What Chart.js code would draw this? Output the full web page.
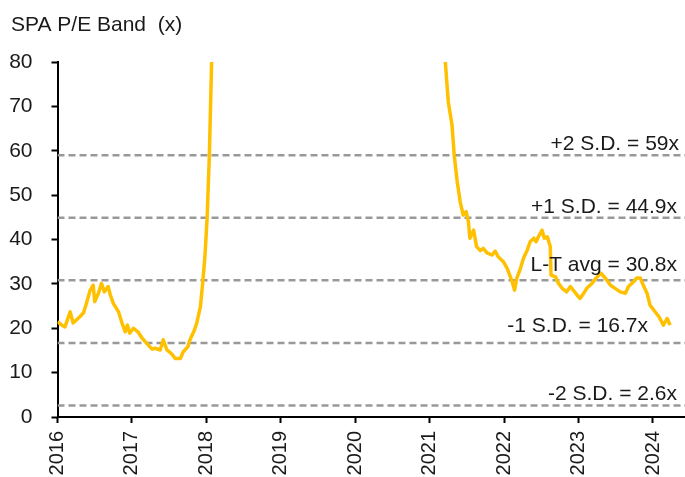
<!DOCTYPE html>
<html>
<head>
  <meta charset="utf-8">
  <title>SPA P/E Band</title>
  <script src="https://cdn.jsdelivr.net/npm/chart.js"></script>
  <style>
    body { margin: 0; background: #fff; }
    canvas { display: block; }
  </style>
</head>
<body>

<canvas id="peChart" width="685" height="477"></canvas>

<script>
  // decimal years and P/E readings (x); 2018-2021 runs far above the 80x axis top
  const dates = [
    2016.00, 2016.05, 2016.10, 2016.17, 2016.21, 2016.30, 2016.35, 2016.39, 2016.44, 2016.48,
    2016.50, 2016.55, 2016.59, 2016.63, 2016.68, 2016.71, 2016.75, 2016.82, 2016.86, 2016.91,
    2016.94, 2016.97, 2017.02, 2017.08, 2017.14, 2017.22, 2017.27, 2017.31, 2017.38, 2017.42,
    2017.47, 2017.53, 2017.58, 2017.65, 2017.69, 2017.75, 2017.78, 2017.83, 2017.87, 2017.92,
    2017.95, 2017.98, 2018.01, 2018.04, 2018.07, 2018.10, 2018.30, 2018.80, 2019.50, 2020.30,
    2020.90, 2021.15, 2021.21, 2021.25, 2021.30, 2021.33, 2021.37, 2021.41, 2021.45, 2021.49,
    2021.52, 2021.54, 2021.59, 2021.63, 2021.68, 2021.72, 2021.77, 2021.84, 2021.88, 2021.92,
    2021.99, 2022.04, 2022.10, 2022.14, 2022.17, 2022.22, 2022.26, 2022.31, 2022.35, 2022.40,
    2022.43, 2022.46, 2022.51, 2022.54, 2022.58, 2022.62, 2022.63, 2022.69, 2022.73, 2022.78,
    2022.84, 2022.89, 2022.96, 2023.02, 2023.07, 2023.11, 2023.18, 2023.25, 2023.30, 2023.36,
    2023.43, 2023.49, 2023.56, 2023.63, 2023.67, 2023.74, 2023.78, 2023.83, 2023.87, 2023.92,
    2023.96, 2024.01, 2024.08, 2024.14, 2024.19, 2024.23
  ];
  const pe = [
    21.5, 20.8, 20.3, 23.7, 21.2, 22.6, 23.5, 25.7, 28.6, 29.7,
    26.0, 27.9, 30.1, 28.2, 29.4, 27.5, 25.6, 23.7, 21.5, 19.2,
    20.7, 18.9, 20.0, 19.2, 17.7, 16.2, 15.3, 15.5, 15.1, 17.4,
    15.1, 14.3, 13.2, 13.2, 14.7, 15.8, 17.4, 19.2, 21.1, 24.9,
    30.1, 36.0, 44.8, 59.0, 79.7, 95, 130, 160, 190, 170,
    130, 95, 80.0, 71.0, 65.8, 59.0, 53.0, 48.5, 45.5, 46.3,
    44.0, 40.3, 42.1, 38.4, 37.5, 38.0, 37.0, 36.5, 37.4, 36.1,
    35.0, 33.5, 30.9, 28.6, 31.3, 33.5, 35.8, 37.6, 39.5, 40.3,
    39.5, 40.6, 42.1, 40.3, 40.6, 38.4, 32.0, 31.6, 30.1, 29.0,
    28.2, 29.4, 27.9, 26.7, 27.9, 29.0, 30.1, 31.6, 32.4, 31.3,
    29.7, 29.0, 28.2, 27.9, 29.4, 30.5, 31.3, 31.3, 29.7, 27.9,
    25.2, 24.1, 22.6, 20.7, 22.2, 20.7
  ];
  const yearTicks = [2016, 2017, 2018, 2019, 2020, 2021, 2022, 2023, 2024];
  const bandValues = [59, 44.9, 30.8, 16.7, 2.6];
  const bandLabels = ['+2 S.D. = 59x', '+1 S.D. = 44.9x', 'L-T avg = 30.8x', '-1 S.D. = 16.7x', '-2 S.D. = 2.6x'];
  const xStart = 2016, xEnd = 2024.43;

  const FONT = '"Liberation Sans", Arial, sans-serif';
  const TEXT = '#1a1a1a';

  // band captions + title, placed from the y scale
  const bandText = {
    id: 'bandText',
    afterDatasetsDraw(chart) {
      const ctx = chart.ctx, y = chart.scales.y, area = chart.chartArea;
      const lift = [11, 11, 15.5, 17, 11];
      const inset = [6, 8, 8, 37, 8];
      ctx.save();
      ctx.font = '21px ' + FONT;
      ctx.fillStyle = TEXT;
      ctx.textAlign = 'right';
      ctx.textBaseline = 'middle';
      bandLabels.forEach((txt, i) => {
        ctx.fillText(txt, area.right - inset[i], y.getPixelForValue(bandValues[i]) - lift[i]);
      });
      ctx.textAlign = 'left';
      ctx.fillText('SPA P/E Band  (x)', 11, 25);
      ctx.restore();
    }
  };

  const datasets = [{
    data: dates.map((d, i) => ({ x: d, y: pe[i] })),
    borderColor: '#FFC000',
    borderWidth: 3.5,
    borderJoinStyle: 'round',
    pointRadius: 0,
    tension: 0,
    clip: 0
  }];
  bandValues.forEach(v => {
    datasets.push({
      data: [{ x: xStart, y: v }, { x: xEnd, y: v }],
      borderColor: '#999999',
      borderWidth: 2.5,
      borderDash: [7, 4],
      pointRadius: 0
    });
  });

  new Chart(document.getElementById('peChart'), {
    type: 'line',
    data: { datasets: datasets },
    plugins: [bandText],
    options: {
      responsive: false,
      animation: false,
      layout: { padding: { top: 62, left: 0, right: 0, bottom: 0 } },
      plugins: { legend: { display: false }, tooltip: { enabled: false } },
      scales: {
        x: {
          type: 'linear',
          min: xStart,
          max: xEnd,
          afterBuildTicks: s => { s.ticks = yearTicks.map(v => ({ value: v })); },
          afterFit: s => { s.height = 60; },
          border: { color: '#000', width: 2 },
          grid: { drawOnChartArea: false, tickLength: 6, tickColor: '#000', tickWidth: 2 },
          ticks: {
            autoSkip: false, minRotation: 90, maxRotation: 90, padding: 8,
            color: TEXT, font: { family: FONT, size: 20 },
            callback: v => String(v)
          }
        },
        y: {
          min: 0,
          max: 80,
          afterFit: s => { s.width = 57.5; },
          border: { color: '#000', width: 2 },
          grid: { drawOnChartArea: false, tickLength: 6, tickColor: '#000', tickWidth: 2 },
          ticks: { stepSize: 10, padding: 19, color: TEXT, font: { family: FONT, size: 21 } }
        }
      }
    }
  });
</script>

</body>
</html>
